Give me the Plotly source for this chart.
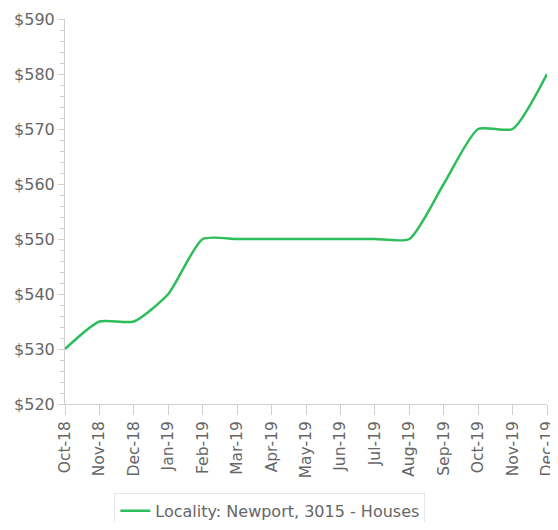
import plotly.graph_objects as go

months = ["Oct-18", "Nov-18", "Dec-18", "Jan-19", "Feb-19", "Mar-19", "Apr-19", "May-19",
          "Jun-19", "Jul-19", "Aug-19", "Sep-19", "Oct-19", "Nov-19", "Dec-19"]
values = [530, 535, 535, 540, 550, 550, 550, 550, 550, 550, 550, 560, 570, 570, 580]
series_name = "Locality: Newport, 3015 - Houses"
y_ticks = [520, 530, 540, 550, 560, 570, 580, 590]
y_tick_labels = ["$" + str(v) for v in y_ticks]

fig = go.Figure()
fig.add_trace(go.Scatter(
    x=months, y=values, mode="lines", name=series_name,
    line=dict(color="#2dbd5a", width=2.5, shape="spline", smoothing=0.6),
    showlegend=True,
))

fig.update_layout(
    width=550, height=514,
    margin=dict(l=57, r=11, t=11, b=118, autoexpand=False),
    paper_bgcolor="white", plot_bgcolor="white",
    font=dict(family="DejaVu Sans", size=16, color="#666666"),
    showlegend=True,
    legend=dict(
        orientation="h", x=0.425, xanchor="center",
        y=-0.231, yanchor="top",
        bordercolor="#e6e6e6", borderwidth=1, bgcolor="white",
        font=dict(size=16, color="#666666"),
    ),
    xaxis=dict(
        type="category", tickangle=-90, showgrid=False, automargin=False,
        tickmode="array", tickvals=months, ticktext=months,
        showline=True, linecolor="#d0d0d0", linewidth=1,
        ticks="outside", tickcolor="#d0d0d0", ticklen=10,
        range=[0, len(months) - 1],
        tickfont=dict(size=15.5, color="#666666"),
    ),
    yaxis=dict(
        range=[520, 590], tickvals=y_ticks, ticktext=y_tick_labels, automargin=False,
        showgrid=False, zeroline=False,
        showline=True, linecolor="#d0d0d0", linewidth=1,
        ticks="outside", tickcolor="#d0d0d0", ticklen=6,
        minor=dict(dtick=2, ticks="outside", ticklen=4, tickcolor="#d0d0d0", showgrid=False),
        tickfont=dict(size=16, color="#666666"),
    ),
)

fig.write_html("out.html")
